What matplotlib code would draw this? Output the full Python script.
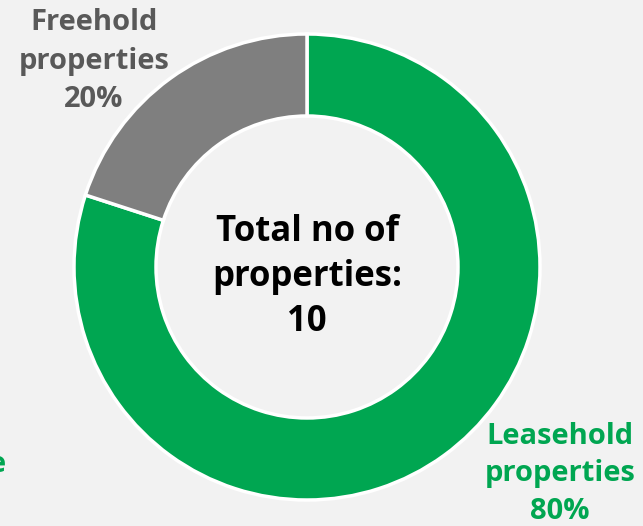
import matplotlib
import matplotlib.pyplot as plt

matplotlib.use("Agg")

# Data
categories = ["Leasehold properties", "Freehold properties"]
counts = [8, 2]
total = sum(counts)
colours = ["#00A651", "#7F7F7F"]

bg = "#F2F2F2"
plt.rcParams["font.family"] = ["Open Sans", "DejaVu Sans"]

fig = plt.figure(figsize=(6.43, 5.26), dpi=100, facecolor=bg)
ax = fig.add_axes([0, 0, 1, 1])
ax.set_facecolor(bg)

# Ring, clockwise from 12 o'clock
ax.pie(
    counts,
    colors=colours,
    startangle=90,
    counterclock=False,
    center=(307, 526 - 267),
    radius=233,
    wedgeprops=dict(width=82, edgecolor="white", linewidth=2.5),
    frame=True,
)
ax.set_xlim(0, 643)
ax.set_ylim(0, 526)
ax.set_aspect("equal")
ax.axis("off")

ax.text(307, 526 - 277, f"Total no of\nproperties:\n{total}",
        ha="center", va="center", fontsize=25, fontweight="bold",
        color="black", linespacing=1.35)

pct = [round(100 * c / total) for c in counts]
ax.text(94, 526 - 61, f"Freehold\nproperties\n{pct[1]}%",
        ha="center", va="center", fontsize=21, fontweight="bold",
        color="#595959", linespacing=1.45)
ax.text(560, 526 - 474, f"Leasehold\nproperties\n{pct[0]}%",
        ha="center", va="center", fontsize=21, fontweight="bold",
        color=colours[0], linespacing=1.4)

# clipped label fragment at the left edge, as in the source
ax.text(6, 526 - 464, "e", ha="right", va="center", fontsize=21,
        fontweight="bold", color=colours[0])

fig.savefig("out.png", dpi=100, facecolor=bg)
